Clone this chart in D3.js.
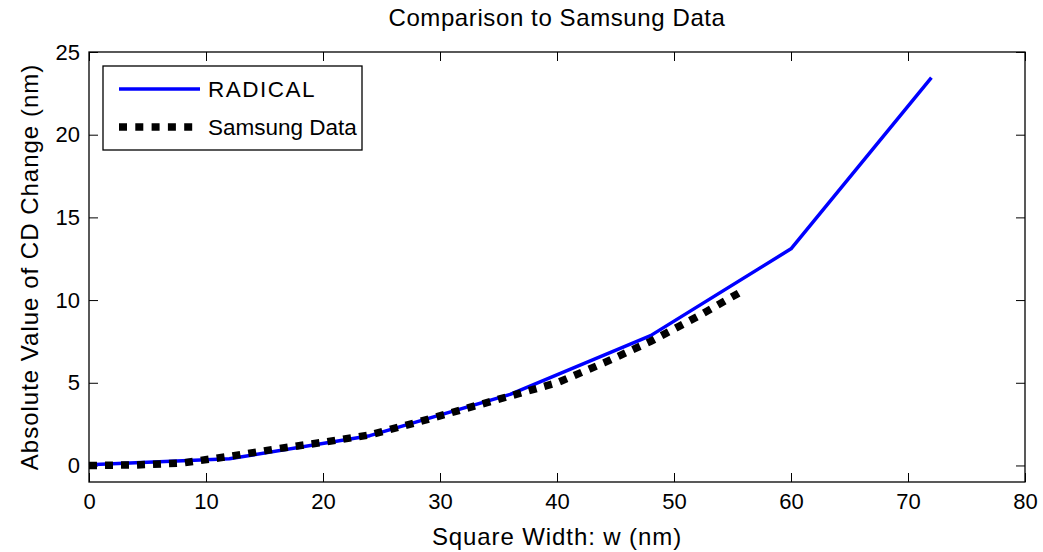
<!DOCTYPE html>
<html>
<head>
<meta charset="utf-8">
<script src="https://cdn.jsdelivr.net/npm/d3@7"></script>
<style>
  body { margin: 0; background: #fff; }
  text { font-family: "Liberation Sans", Arial, sans-serif; fill: #000; }
</style>
</head>
<body>
<div id="chart"></div>
<script>
// Data
var radicalW = [0, 12, 24, 36, 48, 60, 72];
var radicalCD = [0.05, 0.4, 1.8, 4.3, 7.85, 13.1, 23.45];

var samsungW = [0, 4, 8, 12, 16, 20, 24, 28, 32, 36, 40, 44, 48, 52, 55.6];
var samsungCD = [0, 0.03, 0.15, 0.55, 1.0, 1.4, 1.85, 2.6, 3.4, 4.2, 5.0, 6.2, 7.5, 9.0, 10.45];

var xTicks = [0, 10, 20, 30, 40, 50, 60, 70, 80];
var yTicks = [0, 5, 10, 15, 20, 25];

var seriesNames = ["RADICAL", "Samsung Data"];

// Dimensions
var width = 1043;
var height = 552;
var margin = {top: 52, right: 18, bottom: 70, left: 89};
var innerW = width - margin.left - margin.right;
var innerH = height - margin.top - margin.bottom;
var tickLen = 9;

var svg = d3.select("#chart").append("svg")
    .attr("width", width)
    .attr("height", height);

svg.append("rect").attr("width", width).attr("height", height).attr("fill", "#fff");

var g = svg.append("g")
    .attr("transform", "translate(" + margin.left + "," + margin.top + ")");

// Scales
var x = d3.scaleLinear().domain([0, 80]).range([0, innerW]);
var y = d3.scaleLinear().domain([-1, 25]).range([innerH, 0]);

// Axes (ticks point inward, like MATLAB)
var xAxis = g.append("g")
    .attr("transform", "translate(0," + innerH + ")")
    .call(d3.axisBottom(x).tickValues(xTicks).tickSize(-tickLen).tickFormat(d3.format("d")));
var xTop = g.append("g")
    .call(d3.axisTop(x).tickValues(xTicks).tickSize(-tickLen).tickFormat(""));
var yAxis = g.append("g")
    .call(d3.axisLeft(y).tickValues(yTicks).tickSize(-tickLen).tickPadding(9).tickFormat(d3.format("d")));
var yRight = g.append("g")
    .attr("transform", "translate(" + innerW + ",0)")
    .call(d3.axisRight(y).tickValues(yTicks).tickSize(-tickLen).tickFormat(""));

[xAxis, xTop, yAxis, yRight].forEach(function(a) {
    a.select(".domain").remove();
    a.selectAll(".tick line").attr("stroke", "#000").attr("stroke-width", 1);
    a.selectAll(".tick text").style("font-size", "22px");
});
xAxis.selectAll(".tick text").attr("dy", "0.71em").attr("y", 11);

// Frame
g.append("rect")
    .attr("width", innerW)
    .attr("height", innerH)
    .attr("fill", "none")
    .attr("stroke", "#000")
    .attr("stroke-width", 1.3);

// Lines
var line = d3.line()
    .x(function(d) { return x(d[0]); })
    .y(function(d) { return y(d[1]); });

var radical = radicalW.map(function(w, i) { return [w, radicalCD[i]]; });
var samsung = samsungW.map(function(w, i) { return [w, samsungCD[i]]; });

g.append("path")
    .datum(radical)
    .attr("fill", "none")
    .attr("stroke", "#0000ff")
    .attr("stroke-width", 3.5)
    .attr("stroke-linejoin", "round")
    .attr("d", line);

g.append("path")
    .datum(samsung)
    .attr("fill", "none")
    .attr("stroke", "#000")
    .attr("stroke-width", 7.5)
    .attr("stroke-dasharray", "8,8")
    .attr("d", line);

// Legend
var legend = svg.append("g").attr("transform", "translate(103,66)");
legend.append("rect")
    .attr("width", 259)
    .attr("height", 84)
    .attr("fill", "#fff")
    .attr("stroke", "#000")
    .attr("stroke-width", 1.3);
legend.append("line")
    .attr("x1", 16).attr("x2", 97).attr("y1", 23).attr("y2", 23)
    .attr("stroke", "#0000ff").attr("stroke-width", 3.5);
legend.append("line")
    .attr("x1", 16).attr("x2", 97).attr("y1", 61).attr("y2", 61)
    .attr("stroke", "#000").attr("stroke-width", 7.5).attr("stroke-dasharray", "8,8.3");
legend.selectAll("text.lbl")
    .data(seriesNames)
    .enter().append("text")
    .attr("class", "lbl")
    .attr("x", 105)
    .attr("y", function(d, i) { return 23 + i * 38; })
    .attr("dy", "0.35em")
    .style("font-size", "22.5px")
    .style("letter-spacing", function(d, i) { return i === 0 ? "1.5px" : "0px"; })
    .text(function(d) { return d; });

// Title and axis labels
svg.append("text")
    .attr("x", margin.left + innerW / 2)
    .attr("y", 18)
    .attr("dy", "0.35em")
    .attr("text-anchor", "middle")
    .style("font-size", "24px")
    .style("letter-spacing", "0.6px")
    .text("Comparison to Samsung Data");

svg.append("text")
    .attr("x", margin.left + innerW / 2)
    .attr("y", 537)
    .attr("dy", "0.35em")
    .attr("text-anchor", "middle")
    .style("font-size", "24px")
    .style("letter-spacing", "0.9px")
    .text("Square Width: w (nm)");

svg.append("text")
    .attr("transform", "translate(30," + (margin.top + innerH / 2) + ") rotate(-90)")
    .attr("dy", "0.35em")
    .attr("text-anchor", "middle")
    .style("font-size", "24px")
    .style("letter-spacing", "1px")
    .text("Absolute Value of CD Change (nm)");
</script>
</body>
</html>
